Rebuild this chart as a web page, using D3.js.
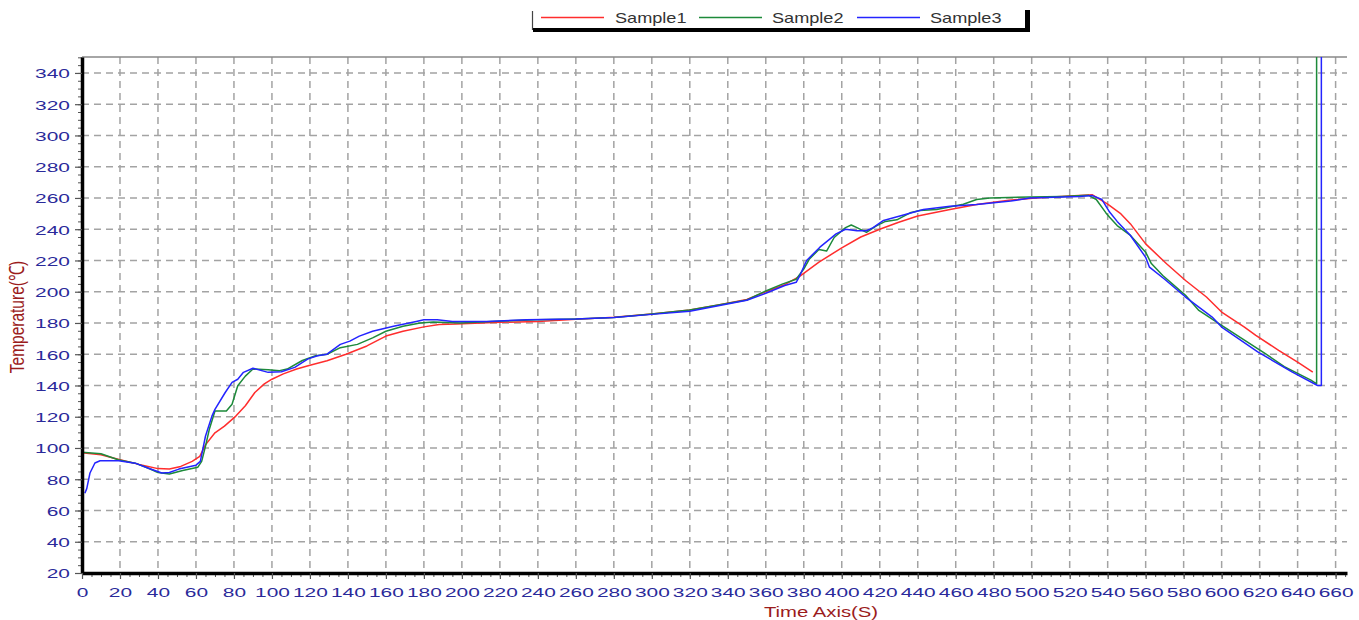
<!DOCTYPE html>
<html><head><meta charset="utf-8">
<script src="https://cdn.jsdelivr.net/npm/d3@7"></script>
<style>
html,body{margin:0;padding:0;background:#fff;}
svg{display:block;font-family:"Liberation Sans",Arial,sans-serif;}
</style></head>
<body>
<svg id="chart" width="1359" height="620"></svg>
<script>
// ---- data ----
const seriesNames = ["Sample1", "Sample2", "Sample3"];
const seriesColors = ["#ff2d2d", "#1d8a3a", "#2424ff"];
const xTickValues = d3.range(0, 661, 20);
const yTickValues = d3.range(20, 341, 20);

const s1Time = [0,10,20,30,40,46,52,58,62,65,70,75,81,86,91,96,100,106,113,120,129,139,150,160,169,180,188,197,220,240,260,280,300,320,335,350,360,370,378,388,400,410,420,430,440,457,471,488,502,520,532,540,547,552,560,571,581,592,600,612,618,630,640,648];
const s1Temp = [97,95.7,92.5,89.5,86.8,86.5,88.2,91.4,94.6,102,109.7,114,120.4,127,135.5,141,144,147.4,150.5,153,155.8,160,165.3,171.6,174.7,177.5,179,179.4,180.4,181,182.3,183.6,185.8,188.3,191.5,195,200,204.5,210,219,228,235,240,244.5,248.5,252.6,255.8,258.5,260,261.2,262,256,249.8,243.4,230.6,217.9,207.2,196.6,187,177.4,172,162.5,155,148.5];

const s2Time = [0,10,19,28,35,40,46,53,61,63,65,67,70,76,79,82,86,90,98,104,108,116,123,129,136,145,153,160,169,178,185,199,216,225,240,260,280,300,320,335,350,360,369,376,380,383,388,392,396,402,405,408,413,418,423,429,436,441,450,464,471,478,499,516,530,534,539,541,545,552,560,563,569,581,588,600,612,623,633,640,647,649.6,650,650];
const s2Temp = [97.2,96.3,92.5,90.3,87,84.3,83.4,85.6,87.7,91.4,101,111.8,123.7,123.7,128,139.8,146,150.5,150,149.5,150.5,156,159,160,164.2,166.3,170.5,174.7,177.9,180,180.6,180,181,181.5,182,182.5,183.5,185.8,188.3,191.5,194.7,200.5,205,208,214.5,221,227,226,234.7,241,242.7,241,238,242,245,246,250.5,252,252.6,256,259,260,260.6,261,261.7,259,250.6,247.7,242.3,236,225.3,218,210.4,197.7,188,178.5,169,160.4,152,147.7,143.4,141.3,141,360];

const s3Time = [1.5,2.5,4.2,6.8,9.5,19.3,28,35,42,46,51,60,62.3,65,68.4,70,75.4,79,82,85,90,98,105,112,119,124,129,136,141,146,153,164,176,180,187,195,213,234,260,280,300,320,335,350,360,370,376,378,381.5,388.5,394,397,402,408,413,416.5,422,443,457,471,489,499,525,532,537,541,545,552,560,562,570,581,595,600,619,637,650.5,652.5,652.5];
const s3Temp = [71,74,84,90.4,91.8,91.8,90.3,87,84,84.3,86.5,89,91.4,107.5,120.4,124.7,135.5,142,144,148.4,151,148.4,148.8,151.6,157,159,160,166.3,168.4,171.6,174.7,177.9,181,182,182,181,181,182,182.5,183.5,185.5,187.5,191,194.5,199,204,206,210.5,220,228.5,234,237,240,239,239,241,245.6,252.6,254.7,255.8,258,260,261,261.5,259,251,245,236,222,215.7,208,196.6,183.8,177.4,161.5,148.7,140,140,360];

const seriesTimes = [s1Time, s2Time, s3Time];
const seriesTemps = [s1Temp, s2Temp, s3Temp];

// ---- layout ----
const svg = d3.select("#chart");
const L = 82, R = 1347, T = 57, B = 573;
const x = d3.scaleLinear().domain([0, 666]).range([L, R]);
const y = d3.scaleLinear().domain([20, 350.2]).range([B, T]);
const labelColor = "#2a2a9a";
const titleColor = "#9b1c1c";
const SX = 1.55; // horizontal stretch of the original rendering

svg.append("defs").append("clipPath").attr("id","clip")
  .append("rect").attr("x", L).attr("y", T).attr("width", R - L).attr("height", B - T);

// grid
const grid = svg.append("g").attr("stroke", "#a3a3a3").attr("stroke-width", 1.5).attr("stroke-dasharray", "7,5");
grid.selectAll("line.v").data(xTickValues.filter(d => d > 0)).join("line")
  .attr("x1", d => x(d)).attr("x2", d => x(d)).attr("y1", T).attr("y2", B);
grid.selectAll("line.h").data(yTickValues.filter(d => d > 20)).join("line")
  .attr("x1", L).attr("x2", R).attr("y1", d => y(d)).attr("y2", d => y(d));

// top border
svg.append("line").attr("x1", L).attr("x2", R).attr("y1", T).attr("y2", T)
  .attr("stroke", "#888").attr("stroke-width", 1.5);

// series
const line = d3.line().x(d => x(d[0])).y(d => y(d[1]));
const gLines = svg.append("g").attr("clip-path", "url(#clip)");
seriesNames.forEach((name, i) => {
  const pts = seriesTimes[i].map((t, k) => [t, seriesTemps[i][k]]);
  gLines.append("path").datum(pts).attr("d", line)
    .attr("fill", "none").attr("stroke", seriesColors[i]).attr("stroke-width", 1.5)
    .attr("stroke-linejoin", "round");
});

// minor ticks
svg.append("g").attr("transform", `translate(${L},0)`)
  .call(d3.axisLeft(y).tickValues(d3.range(20, 351, 5)).tickSize(4).tickFormat("").tickSizeOuter(0))
  .call(g => g.select(".domain").remove())
  .selectAll("line").attr("stroke", "#555");
svg.append("g").attr("transform", `translate(0,${B})`)
  .call(d3.axisBottom(x).tickValues(d3.range(0, 666, 5)).tickSize(4).tickFormat("").tickSizeOuter(0))
  .call(g => g.select(".domain").remove())
  .selectAll("line").attr("stroke", "#555");

// y axis
const yAxisG = svg.append("g").attr("transform", `translate(${L},0)`)
  .call(d3.axisLeft(y).tickValues(yTickValues).tickSize(7).tickSizeOuter(0).tickPadding(0));
yAxisG.select(".domain").attr("stroke", "#000").attr("stroke-width", 3.5);
yAxisG.selectAll(".tick line").attr("stroke", "#555").attr("stroke-width", 1.2);
yAxisG.selectAll(".tick text")
  .attr("x", 0).attr("dy", "0.36em").attr("fill", labelColor)
  .attr("font-size", 13.5).attr("text-anchor", "end")
  .attr("transform", `translate(-12,0) scale(${SX},1)`);

// x axis
const xAxisG = svg.append("g").attr("transform", `translate(0,${B})`)
  .call(d3.axisBottom(x).tickValues(xTickValues).tickSize(6).tickSizeOuter(0).tickPadding(0));
xAxisG.select(".domain").attr("stroke", "#000").attr("stroke-width", 3.5);
xAxisG.selectAll(".tick line").attr("stroke", "#555").attr("stroke-width", 1.2);
xAxisG.selectAll(".tick text")
  .attr("y", 0).attr("dy", 0).attr("fill", labelColor)
  .attr("font-size", 13.5).attr("text-anchor", "middle")
  .attr("transform", `translate(0,24) scale(${SX},1)`);

// axis titles
svg.append("text").text("Time Axis(S)")
  .attr("fill", titleColor).attr("font-size", 14).attr("text-anchor", "middle")
  .attr("transform", `translate(821,617) scale(1.45,1)`);
svg.append("text").text("Temperature(℃)")
  .attr("fill", titleColor).attr("font-size", 15.5).attr("text-anchor", "middle")
  .attr("transform", `translate(24,317) scale(1.35,1) rotate(-90)`);

// legend
const lg = svg.append("g");
lg.append("line").attr("x1", 532.5).attr("x2", 532.5).attr("y1", 11).attr("y2", 30).attr("stroke", "#444").attr("stroke-width", 1.2);
lg.append("rect").attr("x", 533).attr("y", 28).attr("width", 497).attr("height", 4).attr("fill", "#000");
lg.append("rect").attr("x", 1025).attr("y", 10).attr("width", 5).attr("height", 22).attr("fill", "#000");
const legendLineX = [541, 699, 857];
const legendTextX = [615, 772, 930];
seriesNames.forEach((name, i) => {
  lg.append("line").attr("x1", legendLineX[i]).attr("x2", legendLineX[i] + 63)
    .attr("y1", 17.5).attr("y2", 17.5).attr("stroke", seriesColors[i]).attr("stroke-width", 1.3);
  lg.append("text").text(name).attr("fill", "#333").attr("font-size", 14.5)
    .attr("transform", `translate(${legendTextX[i]},23) scale(1.25,1)`);
});
</script>
</body></html>
